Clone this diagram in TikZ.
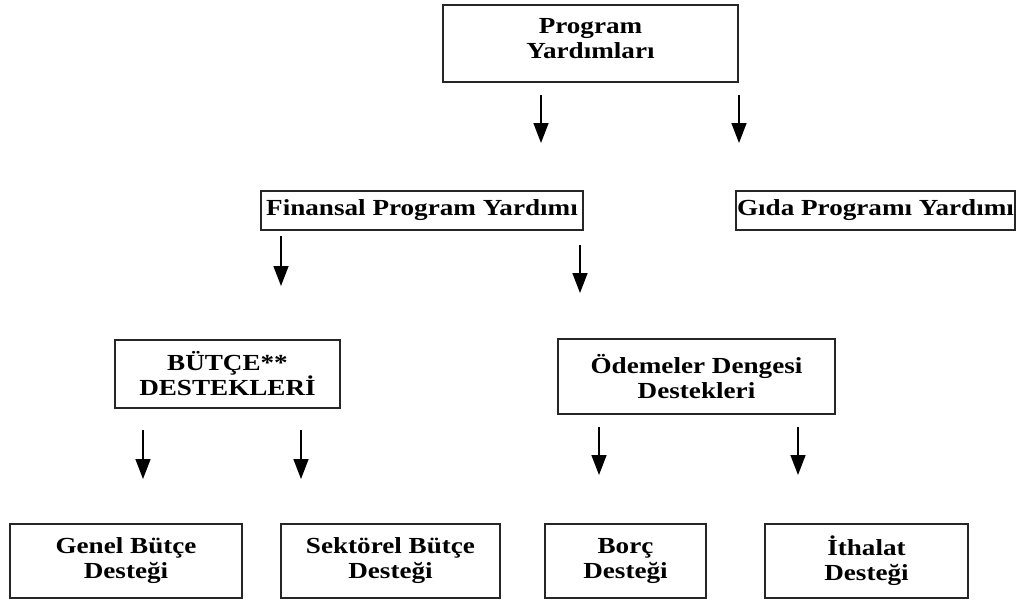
\documentclass[tikz,border=0pt]{standalone}
\usepackage{fontspec}
\setmainfont{Liberation Serif}[FakeStretch=1.18]
\usetikzlibrary{arrows.meta,positioning}

\tikzset{
  kutu/.style={draw=black!85, line width=1.6pt, inner sep=0pt, align=center,
    font=\fontsize{23}{25}\selectfont\bfseries},
  ok/.style={-{Triangle[width=15pt,length=20pt]}, line width=1.5pt}
}

\begin{document}
\begin{tikzpicture}[x=1pt,y=-1pt]
\useasboundingbox (0,0) rectangle (1017,600);
% kutular
\node[kutu, minimum width=295, minimum height=77] (prog) at (590.5,43.5) {Program\\Yardımları\\[-15pt]};
\node[kutu, minimum width=322, minimum height=39] (fin) at (422,210.5) {Finansal Program Yardımı};
\node[kutu, minimum width=279, minimum height=39] (gida) at (875.5,210.5) {Gıda Programı Yardımı};
\node[kutu, minimum width=225, minimum height=68] (butce) at (227.5,374) {BÜTÇE**\\DESTEKLERİ};
\node[kutu, minimum width=277, minimum height=75] (odeme) at (696.5,376.5) {Ödemeler Dengesi\\Destekleri};
\node[kutu, minimum width=232, minimum height=74] (genel) at (126,561) {Genel Bütçe\\Desteği};
\node[kutu, minimum width=219, minimum height=74] (sektor) at (390.5,561) {Sektörel Bütçe\\Desteği};
\node[kutu, minimum width=161, minimum height=74] (borc) at (625.5,561) {Borç\\Desteği};
\node[kutu, minimum width=203, minimum height=74] (ithal) at (866.5,561) {İthalat\\Desteği};

% oklar
\coordinate (p1) at (541,95);  \coordinate (p1e) at (541,143);
\coordinate (p2) at (739,95);  \coordinate (p2e) at (739,143);
\coordinate (f1) at (281,236); \coordinate (f1e) at (281,286);
\coordinate (f2) at (580,245); \coordinate (f2e) at (580,293);
\coordinate (b1) at (143,430); \coordinate (b1e) at (143,479);
\coordinate (b2) at (301,430); \coordinate (b2e) at (301,479);
\coordinate (o1) at (599,427); \coordinate (o1e) at (599,475);
\coordinate (o2) at (798,427); \coordinate (o2e) at (798,475);
\foreach \a in {p1,p2,f1,f2,b1,b2,o1,o2}
  \draw[ok] (\a) -- (\a e);
\end{tikzpicture}
\end{document}
